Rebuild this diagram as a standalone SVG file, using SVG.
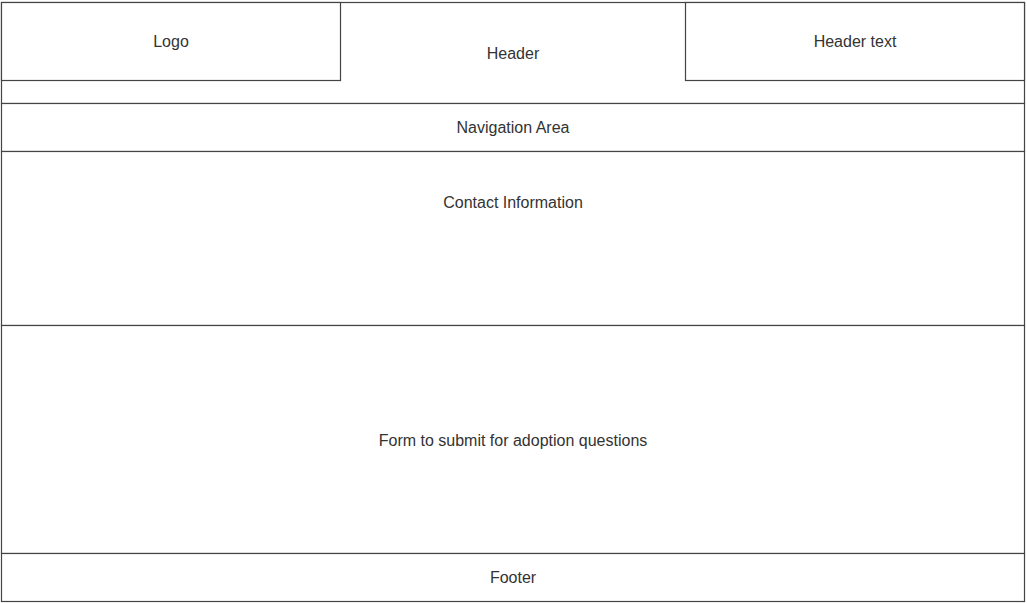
<svg xmlns="http://www.w3.org/2000/svg" width="1027" height="603" viewBox="0 0 1027 603">
<style>
.box{fill:#ffffff;stroke:#444444;stroke-width:1.2}
.lbl{font-family:"Liberation Sans",Arial,sans-serif;font-size:16px;fill:#333333;text-anchor:middle;dominant-baseline:central}
</style>
<rect x="0" y="0" width="1027" height="603" fill="#ffffff"/>
<g id="header"><rect class="box" x="1.5" y="2.5" width="1023" height="101"/><text class="lbl" x="513" y="53">Header</text></g>
<g id="logo"><rect class="box" x="1.5" y="2.5" width="339" height="78"/><text class="lbl" x="171" y="41">Logo</text></g>
<g id="header-text"><rect class="box" x="685.5" y="2.5" width="339" height="78"/><text class="lbl" x="855" y="41">Header text</text></g>
<g id="navigation"><rect class="box" x="1.5" y="103.5" width="1023" height="48"/><text class="lbl" x="513" y="127">Navigation Area</text></g>
<g id="contact"><rect class="box" x="1.5" y="151.5" width="1023" height="174"/><text class="lbl" x="513" y="202">Contact Information</text></g>
<g id="form"><rect class="box" x="1.5" y="325.5" width="1023" height="228"/><text class="lbl" x="513" y="440">Form to submit for adoption questions</text></g>
<g id="footer"><rect class="box" x="1.5" y="553.5" width="1023" height="48"/><text class="lbl" x="513" y="577">Footer</text></g>
<g id="connectors"></g>
</svg>
